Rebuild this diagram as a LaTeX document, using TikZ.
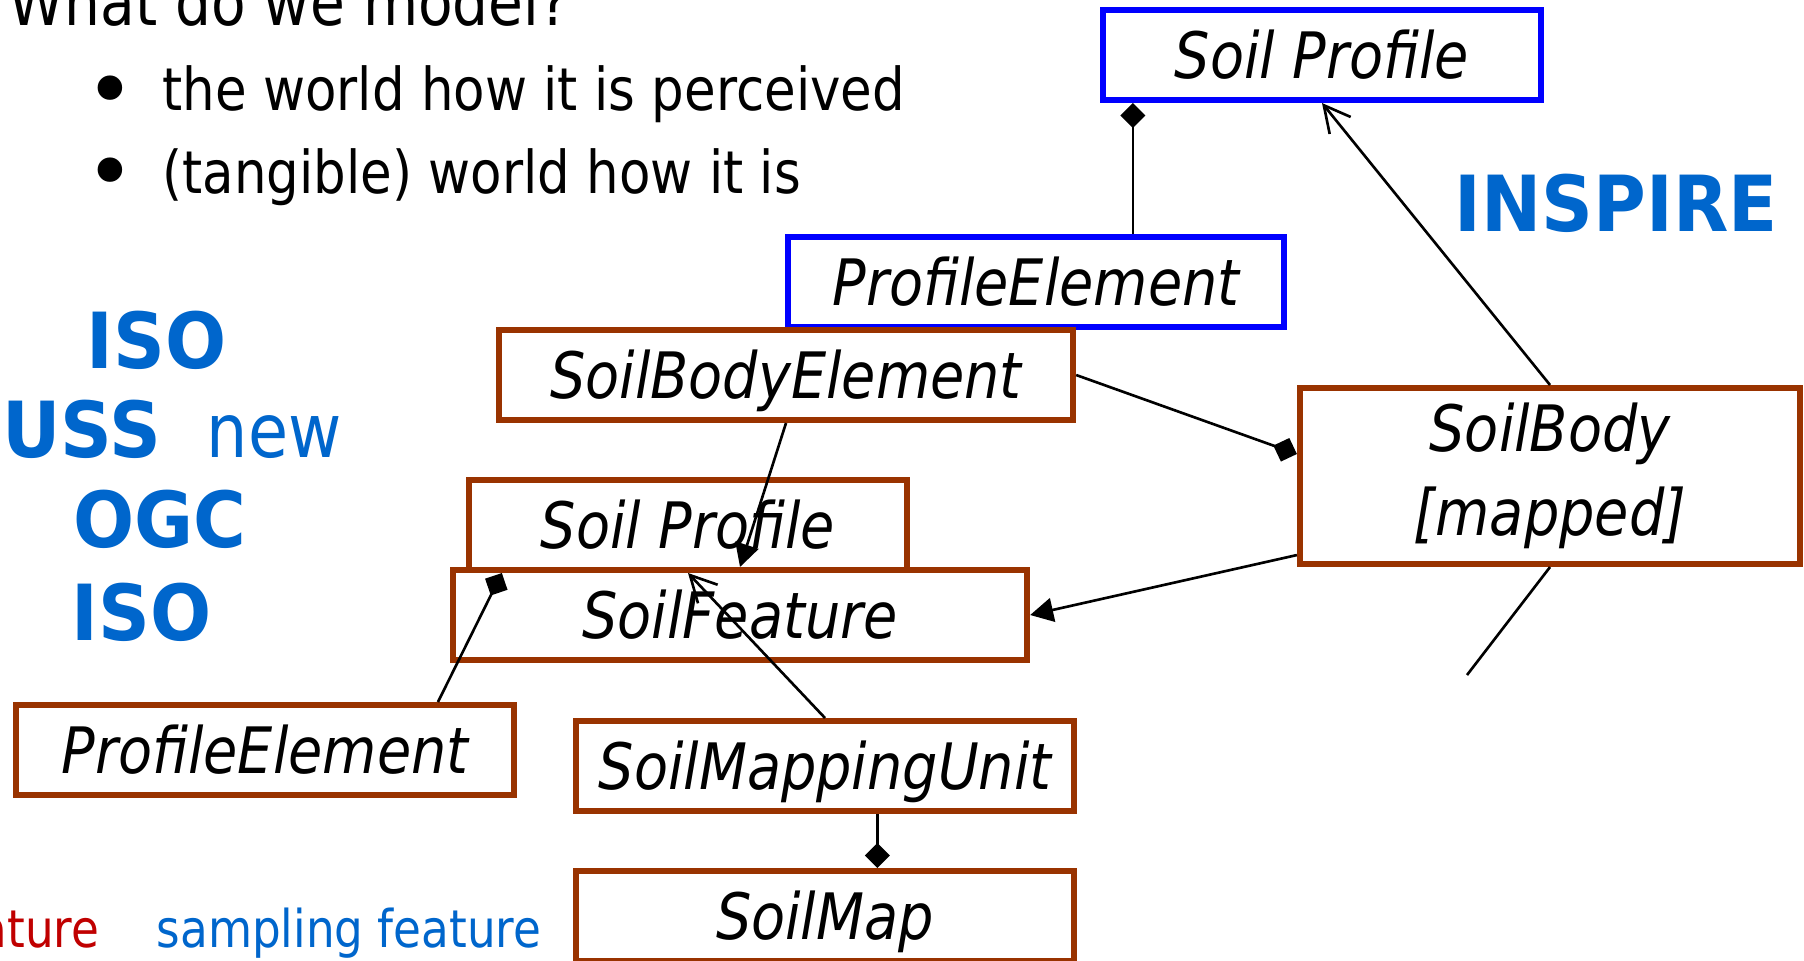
\documentclass[tikz,border=0pt]{standalone}
\usepackage{fontspec}
\usepackage{tikz}
\usetikzlibrary{arrows.meta, positioning, calc}
\usepackage{xcolor}

\newfontfamily\diagfont[FakeStretch=0.87]{DejaVu Sans}
\newfontfamily\headfont[FakeStretch=0.93]{DejaVu Sans}
\newfontfamily\plainfont{DejaVu Sans}

\definecolor{umlblue}{HTML}{0000FF}
\definecolor{umlbrown}{HTML}{993300}
\definecolor{stdblue}{HTML}{0066CC}
\definecolor{featred}{HTML}{C00000}

\newcommand{\classfont}{\diagfont\itshape\fontsize{18.2pt}{23.9pt}\selectfont}
\newcommand{\slidetitlefont}{\diagfont\fontsize{18.5pt}{22pt}\selectfont}
\newcommand{\bulletfont}{\diagfont\fontsize{16.8pt}{20pt}\selectfont}
\newcommand{\dotfont}{\plainfont\fontsize{24pt}{28pt}\selectfont}
\newcommand{\stdfont}{\headfont\bfseries\fontsize{22pt}{26pt}\selectfont}
\newcommand{\notefont}{\diagfont\fontsize{21.3pt}{25pt}\selectfont}
\newcommand{\legendfont}{\diagfont\fontsize{14.8pt}{18pt}\selectfont}

\begin{document}
\begin{tikzpicture}[
      x=0.01cm, y=-0.01cm,
      cls/.style     = {draw, line width=1.7pt, minimum height=0.9cm,
                        inner sep=0pt, font=\classfont},
      oneline/.style = {text height=0.47cm, text depth=0pt},
      inspcls/.style = {cls, oneline, draw=umlblue},
      soilcls/.style = {cls, oneline, draw=umlbrown},
      conn/.style    = {line width=0.75pt},
      comp/.style    = {conn, -{Diamond[length=0.25cm, width=0.25cm]}},
      gen/.style     = {conn, -{Straight Barb[length=0.26cm, width=0.27cm]}},
      assoc/.style   = {conn, -{Triangle[length=0.23cm, width=0.24cm]}},
      std/.style     = {anchor=base west, inner sep=0pt, text=stdblue, font=\stdfont},
      txt/.style     = {anchor=base west, inner sep=0pt}
    ]

    \useasboundingbox (0,0) rectangle (1804,960);
    \clip (0,0) rectangle (1804,960);
    \fill[white] (0,0) rectangle (1804,960);

    % ---- slide text ----
    \node[txt, font=\slidetitlefont] (title) at (8,25) {What do we model?};
    \node[txt, font=\dotfont] (dot1) at (85,119) {\textbullet};
    \node[txt, font=\bulletfont] (item1) at (162,110) {the world how it is perceived};
    \node[txt, font=\dotfont] (dot2) at (85,201) {\textbullet};
    \node[txt, font=\bulletfont] (item2) at (162,193) {(tangible) world how it is};

    % ---- standards ----
    \node[std] (iso1) at (86,368) {ISO};
    \node[std, anchor=base east] (iuss) at (162,457) {IUSS};
    \node[txt, text=stdblue, font=\notefont] (newlbl) at (206,457) {new};
    \node[std] (ogc) at (73,547) {OGC};
    \node[std] (iso2) at (71,640) {ISO};
    \node[std] (inspire) at (1454,231) {INSPIRE};

    % ---- legend ----
    \node[txt, anchor=base east, text=featred, font=\legendfont] (legfeat) at (100,947) {feature};
    \node[txt, text=stdblue, font=\legendfont] (legsamp) at (156,947) {sampling feature};

    % ---- INSPIRE classes (blue) ----
    \node[inspcls, minimum width=4.38cm] (inspprofile) at (1322,55)  {Soil Profile};
    \node[inspcls, minimum width=4.96cm] (inspelem)    at (1036,282) {ProfileElement};

    % ---- soil classes (brown) ----
    \node[soilcls, minimum width=5.74cm] (sbelem)   at (786,375) {SoilBodyElement};
    \node[cls, draw=umlbrown, align=center, minimum width=5cm,
          minimum height=1.76cm]         (soilbody) at (1550,476) {SoilBody\\{}[mapped]};
    \node[soilcls, minimum width=4.38cm] (sprofile) at (688,525) {Soil Profile};
    \node[soilcls, minimum width=5.74cm] (sfeature) at (740,615) {SoilFeature};
    \node[soilcls, minimum width=4.98cm] (pelem)    at (265,750) {ProfileElement};
    \node[soilcls, minimum width=4.98cm] (smu)      at (825,766) {SoilMappingUnit};
    \node[soilcls, minimum width=4.98cm] (smap)     at (825,916) {SoilMap};

    % ---- compositions (filled diamonds) ----
    \coordinate (pe1) at ($(inspelem.north west)!0.693!(inspelem.north east)$);
    \draw[comp] (pe1) -- (pe1 |- inspprofile.south);
    \draw[comp] (sbelem.east) -- ([yshift=0.22cm]soilbody.west);
    \draw[comp] ($(pelem.north west)!0.843!(pelem.north east)$)
        -- ($(sprofile.south west)!0.081!(sprofile.south east)$);
    \coordinate (smu1) at ($(smu.south west)!0.604!(smu.south east)$);
    \draw[comp] (smu1) -- (smu1 |- smap.north);

    % ---- generalisations (open heads) ----
    \draw[gen] (soilbody.north) -- (inspprofile.south);
    \draw[gen] (smu.north) -- (sprofile.south);

    % ---- associations (filled heads) ----
    \draw[assoc] (sbelem.south) -- (sfeature.north);
    \draw[assoc] ([yshift=-0.79cm]soilbody.west) -- (sfeature.east);

    % ---- loose end below SoilBody ----
    \coordinate (sbend) at (1467,675);
    \draw[conn] (soilbody.south) -- (sbend);

  \end{tikzpicture}
\end{document}
